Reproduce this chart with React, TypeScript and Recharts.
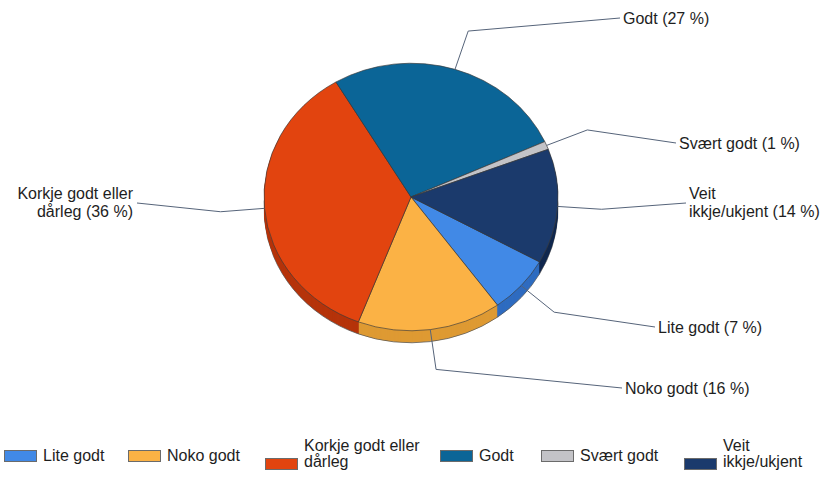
import React from "react";
import { PieChart, Pie, Cell, Legend } from "recharts";

const categories = [
  "Lite godt",
  "Noko godt",
  "Korkje godt eller dårleg",
  "Godt",
  "Svært godt",
  "Veit ikkje/ukjent",
];
const shares = [7, 16, 36, 27, 1, 14];
// how each name wraps, used by the legend and the slice labels
const nameLines = [
  ["Lite godt"],
  ["Noko godt"],
  ["Korkje godt eller", "dårleg"],
  ["Godt"],
  ["Svært godt"],
  ["Veit", "ikkje/ukjent"],
];

const topColors = ["#4189e6", "#fbb245", "#e2440f", "#0b6597", "#c3c3c7", "#1b3a6c"];
const sideColors = ["#2f6cc0", "#de9a33", "#b5330a", "#084d73", "#9c9ca0", "#12294f"];

// end of each leader line (where its text starts)
const labelAnchors = [
  [655, 327],
  [622, 388],
  [137, 203],
  [620, 18],
  [676, 143],
  [686, 203],
];
const legendX = [4, 128, 265, 440, 541, 684];

const W = 828;
const H = 486;
const CX = 411;
const CY = 197;
const R = 147;
const SQUASH = 0.91; // vertical tilt of the pie
const DEPTH = 12;
const START = -29;
const RAD = Math.PI / 180;
const FONT = '"Liberation Sans", Arial, sans-serif';

const pieData = categories.map((name, i) => ({ name, value: shares[i] }));
const wallOffsets = Array.from({ length: DEPTH }, (_, i) => DEPTH - i);

function SliceLabel(props: any) {
  const { midAngle, index } = props;
  const a = -midAngle * RAD;
  const at = (k: number) => [CX + k * R * Math.cos(a), CY + k * R * SQUASH * Math.sin(a)];
  const [x0, y0] = at(1);
  const [x1, y1] = at(1.3);
  const [x2, y2] = labelAnchors[index];
  const left = x2 < CX;
  const lines = [...nameLines[index]];
  lines[lines.length - 1] += ` (${shares[index]} %)`;
  const firstY = y2 - (lines.length - 1) * 10;
  const tx = left ? x2 - 4 : x2 + 3;

  return (
    <g>
      <polyline
        points={`${x0},${y0} ${x1},${y1} ${x2},${y2}`}
        fill="none"
        stroke="#56647a"
        strokeWidth={1}
      />
      <text
        x={tx}
        y={firstY}
        textAnchor={left ? "end" : "start"}
        dominantBaseline="central"
        fontFamily={FONT}
        fontSize={16}
        fill="#1e1e1e"
      >
        {lines.map((ln, i) => (
          <tspan key={i} x={tx} y={firstY + i * 17.5}>
            {ln}
          </tspan>
        ))}
      </text>
    </g>
  );
}

function LegendBlock() {
  return (
    <div
      style={{
        position: "relative",
        width: W,
        height: 50,
        fontFamily: FONT,
        fontSize: 16,
        color: "#1e1e1e",
      }}
    >
      {categories.map((c, i) => {
        const two = nameLines[i].length > 1;
        return (
          <React.Fragment key={c}>
            <div
              style={{
                position: "absolute",
                left: legendX[i],
                top: two ? 22 : 14,
                width: 33,
                height: 12,
                background: topColors[i],
                border: "1px solid #6b6b6b",
                boxSizing: "border-box",
              }}
            />
            <div
              style={{
                position: "absolute",
                left: legendX[i] + 39,
                top: two ? 1.75 : 12.25,
                lineHeight: "16.5px",
                whiteSpace: "pre",
              }}
            >
              {nameLines[i].join("\n")}
            </div>
          </React.Fragment>
        );
      })}
    </div>
  );
}

export default function App() {
  return (
    <div className="pie3d" style={{ width: W, height: H, background: "#fff" }}>
      <style>{`
        body { margin: 0; }
        .pie3d .recharts-sector {
          transform-box: view-box;
          transform-origin: ${CX}px ${CY}px;
          transform: scaleY(${SQUASH});
        }
        .pie3d *:focus { outline: none; }
      `}</style>
      <PieChart width={W} height={H} margin={{ top: 0, right: 0, bottom: 0, left: 0 }}>
        {wallOffsets.map((d) => (
          <Pie
            key={d}
            data={pieData}
            dataKey="value"
            nameKey="name"
            cx={CX}
            cy={CY + d / SQUASH}
            outerRadius={R}
            startAngle={START}
            endAngle={START - 360}
            stroke={d === DEPTH ? "#555" : "none"}
            strokeWidth={0.8}
            legendType="none"
            isAnimationActive={false}
          >
            {pieData.map((e, i) => (
              <Cell key={e.name} fill={sideColors[i]} />
            ))}
          </Pie>
        ))}
        <Pie
          data={pieData}
          dataKey="value"
          nameKey="name"
          cx={CX}
          cy={CY}
          outerRadius={R}
          startAngle={START}
          endAngle={START - 360}
          stroke="#3b3b3b"
          strokeWidth={0.7}
          label={SliceLabel}
          labelLine={false}
          isAnimationActive={false}
        >
          {pieData.map((e, i) => (
            <Cell key={e.name} fill={topColors[i]} />
          ))}
        </Pie>
        <Legend
          content={() => <LegendBlock />}
          wrapperStyle={{ position: "absolute", top: 436, left: 0, bottom: "auto", width: W, height: 50 }}
        />
      </PieChart>
    </div>
  );
}
